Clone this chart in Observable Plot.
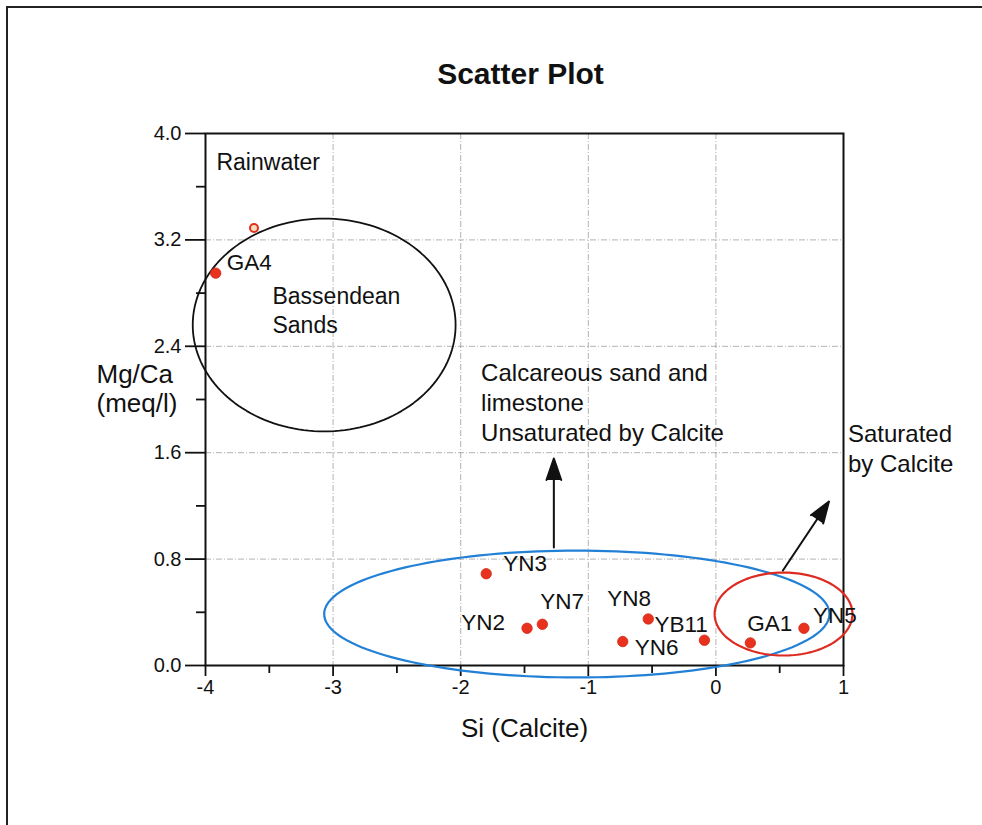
<!DOCTYPE html>
<html>
<head>
<meta charset="utf-8">
<script src="https://cdn.jsdelivr.net/npm/d3@7"></script>
<script src="https://cdn.jsdelivr.net/npm/@observablehq/plot@0.6"></script>
<style>
  html, body { margin: 0; padding: 0; background: #fff; }
  #page { position: relative; width: 982px; height: 825px; overflow: hidden; }
  #page::before {
    content: ""; position: absolute; left: 6px; top: 6px; width: 1200px; height: 1200px;
    border-left: 2px solid #222; border-top: 2px solid #222; pointer-events: none;
  }
  #page svg { position: absolute; left: 0; top: 0; overflow: visible; }
  #page svg g[aria-label$="tick label"],
  #page svg g[aria-label$="tick label"] text { font-size: 20px !important; fill: #111; }
</style>
</head>
<body>
<div id="page"></div>
<script>
// Water samples: saturation index of calcite vs. Mg/Ca ratio
const sampleNames = ["GA4", "YN3", "YN2", "YN7", "YN6", "YN8", "YB11", "GA1", "YN5"];
const siCalcite   = [-3.92, -1.80, -1.48, -1.36, -0.73, -0.53, -0.09, 0.27, 0.69];
const mgCa        = [ 2.95,  0.69,  0.28,  0.31,  0.18,  0.35,  0.19, 0.17, 0.28];

// Rainwater reference sample
const rainSi = [-3.62];
const rainMgCa = [3.29];

// Hydrochemical zones, drawn as ellipses (centre and semi-axes in data units)
const zoneNames = ["Bassendean Sands", "Calcareous sand and limestone", "Saturated by Calcite"];
const zoneCx = [-3.07, -1.09, 0.53];
const zoneCy = [ 2.56,  0.387, 0.387];
const zoneRx = [ 1.03,  1.98, 0.54];
const zoneRy = [ 0.80,  0.477, 0.312];

// Trend arrows
const arrowX1 = [-1.27, 0.525];
const arrowY1 = [ 0.887, 0.714];
const arrowX2 = [-1.27, 0.886];
const arrowY2 = [ 1.556, 1.233];

// Axis ticks
const xMajor = [-4, -3, -2, -1, 0, 1];
const xMinor = [-3.5, -2.5, -1.5, -0.5, 0.5];
const yMajor = [0, 0.8, 1.6, 2.4, 3.2, 4.0];
const yMinor = [0.4, 1.2, 2.0, 2.8, 3.6];

// Label placement around each sample point (pixel offsets, anchor)
const labelPlacement = {
  GA4:  [11, -10, "start"],
  YN3:  [17, -10, "start"],
  YN2:  [-22, -5, "end"],
  YN7:  [-2, -22, "start"],
  YN8:  [-41, -20, "start"],
  YB11: [-50, -15, "start"],
  YN6:  [12, 6, "start"],
  GA1:  [-3, -19, "start"],
  YN5:  [9, -12, "start"]
};

const samples = sampleNames.map((name, i) => ({name, si: siCalcite[i], mg: mgCa[i]}));
const rain = rainSi.map((s, i) => ({si: s, mg: rainMgCa[i]}));
const arrows = arrowX1.map((_, i) => ({x1: arrowX1[i], y1: arrowY1[i], x2: arrowX2[i], y2: arrowY2[i]}));

function ellipseOutline(i) {
  const n = 160;
  return d3.range(n).map(k => {
    const t = (2 * Math.PI * k) / n;
    return {x: zoneCx[i] + zoneRx[i] * Math.cos(t), y: zoneCy[i] + zoneRy[i] * Math.sin(t)};
  });
}

const zoneStroke = ["#111", "#2280d6", "#de2b22"];
const labelFont = 22.5;

const sampleLabels = samples.map(d => {
  const [dx, dy, anchor] = labelPlacement[d.name];
  return Plot.text([d], {x: "si", y: "mg", text: "name", dx, dy, textAnchor: anchor,
    lineAnchor: "middle", fontSize: labelFont, fill: "#111"});
});

const chart = Plot.plot({
  width: 982,
  height: 825,
  marginLeft: 205,
  marginRight: 139,
  marginTop: 133,
  marginBottom: 160,
  x: {domain: [-4, 1]},
  y: {domain: [0, 4]},
  style: {fontFamily: "'Liberation Sans', Arial, sans-serif", fontSize: "20px", color: "#111", background: "transparent"},
  marks: [
    Plot.gridX(xMajor.slice(1, -1), {stroke: "#888", strokeOpacity: 0.8, strokeWidth: 0.8, strokeDasharray: "6,2,1,2"}),
    Plot.gridY(yMajor.slice(1, -1), {stroke: "#888", strokeOpacity: 0.8, strokeWidth: 0.8, strokeDasharray: "6,2,1,2"}),
    Plot.frame({stroke: "#111", strokeWidth: 2}),
    Plot.axisY(yMajor, {tickSize: 20, tickPadding: 4, strokeWidth: 1.8, tickFormat: d3.format(".1f"), label: null}),
    Plot.axisY(yMinor, {tickSize: 9, strokeWidth: 1.8, tickFormat: () => "", label: null}),
    Plot.axisX(xMajor, {tickSize: 11, tickPadding: 3, strokeWidth: 1.8, tickFormat: d => String(d), label: null}),
    Plot.axisX(xMinor, {tickSize: 8, strokeWidth: 1.8, tickFormat: () => "", label: null}),

    // zone ellipses
    ...zoneNames.map((_, i) => Plot.line(ellipseOutline(i), {x: "x", y: "y", curve: "linear-closed",
      stroke: zoneStroke[i], strokeWidth: i === 0 ? 1.8 : 2.2})),

    // trend arrows
    Plot.arrow(arrows, {x1: "x1", y1: "y1", x2: "x2", y2: "y2", stroke: "#111", fill: "#111",
      strokeWidth: 2, headLength: 17, headAngle: 38}),

    // samples
    Plot.dot(rain, {x: "si", y: "mg", r: 4, fill: "#f3dcc0", stroke: "#e0301e", strokeWidth: 2}),
    Plot.dot(samples, {x: "si", y: "mg", r: 5.2, fill: "#e8321d", stroke: "#cf2a18", strokeWidth: 0.8}),
    ...sampleLabels,

    // region annotations
    Plot.text(["Rainwater"], {x: -3.914, y: 3.78, textAnchor: "start", lineAnchor: "middle", fontSize: 23, fill: "#111"}),
    Plot.text(["Bassendean\nSands"], {x: -3.475, y: 2.68, textAnchor: "start", lineAnchor: "middle", lineHeight: 1.26, fontSize: 23, fill: "#111"}),
    Plot.text(["Calcareous sand and\nlimestone\nUnsaturated by Calcite"], {x: -1.84, y: 1.985, textAnchor: "start", lineAnchor: "middle", lineHeight: 1.24, fontSize: 24, fill: "#111"}),
    Plot.text(["Saturated\nby Calcite"], {x: 1.035, y: 1.64, textAnchor: "start", lineAnchor: "middle", lineHeight: 1.25, fontSize: 24, fill: "#111"}),

    // title and axis titles
    Plot.text(["Scatter Plot"], {frameAnchor: "top", dx: -4, dy: -59, lineAnchor: "middle", fontSize: 30, fontWeight: "bold", fill: "#111"}),
    Plot.text(["Si (Calcite)"], {frameAnchor: "bottom", dy: 63, lineAnchor: "middle", fontSize: 26, fill: "#111"}),
    Plot.text(["Mg/Ca\n(meq/l)"], {frameAnchor: "left", dx: -109, dy: -11, lineAnchor: "middle", lineHeight: 1.1, fontSize: 26, fill: "#111"})
  ]
});

document.getElementById("page").appendChild(chart);
</script>
</body>
</html>
